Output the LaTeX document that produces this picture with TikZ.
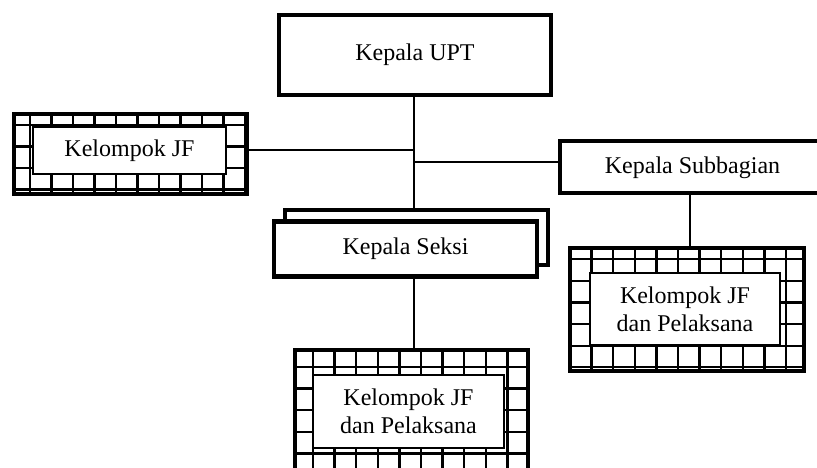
\documentclass[tikz,border=0pt]{standalone}
\usepackage{fontspec}
\setmainfont{Liberation Serif}
\begin{document}
\begin{tikzpicture}[x=1pt,y=-1pt,
  heavy/.style={draw=black,line width=4.5pt,fill=white,rectangle,inner sep=0pt,
    font=\fontsize{24}{28}\selectfont,align=center},
  plain/.style={rectangle,inner sep=0pt},
  label/.style={draw=black,line width=1.2pt,fill=white,rectangle,inner sep=0pt,
    font=\fontsize{24}{28}\selectfont,align=center},
  gridline/.style={draw=black,line width=2.3pt},
  edge/.style={draw=black,line width=1.5pt}]
\useasboundingbox (0,0) rectangle (817,467);

% top box
\node[heavy,minimum width=272pt,minimum height=80pt] (upt) at (415,55) {Kepala UPT};

% subbagian (runs off the right side)
\node[heavy,minimum width=270pt,minimum height=52pt] (sub) at (695,167) {};
\node at (692.5,168) [font=\fontsize{24}{28}\selectfont] (subtxt) {Kepala Subbagian};

% kepala seksi, two stacked boxes
\node[heavy,minimum width=263pt,minimum height=55pt] (seksib) at (416.5,237.5) {};
\node[heavy,minimum width=263pt,minimum height=55pt] (seksi) at (405.5,249) {Kepala Seksi};

% gridded group boxes: outer frames
\node[plain,minimum width=233pt,minimum height=80pt] (jf) at (130.5,154) {};
\node[plain,minimum width=234pt,minimum height=123pt] (jfr) at (687,309.5) {};
\node[plain,minimum width=233pt,minimum height=140pt] (jfb) at (411.5,420) {};

% grid fills
\begin{scope}
  \clip (jf.north west) rectangle (jf.south east);
  \foreach \x in {8.5,30,...,260} \draw[gridline] (\x,100) -- (\x,210);
  \foreach \y in {103.5,125,...,210} \draw[gridline] (0,\y) -- (260,\y);
\end{scope}
\begin{scope}
  \clip (jfr.north west) rectangle (jfr.south east);
  \foreach \x in {570,591.6,...,820} \draw[gridline] (\x,230) -- (\x,390);
  \foreach \y in {237.7,259.3,...,390} \draw[gridline] (550,\y) -- (820,\y);
\end{scope}
\begin{scope}
  \clip (jfb.north west) rectangle (jfb.south east);
  \foreach \x in {291.4,313,...,540} \draw[gridline] (\x,330) -- (\x,500);
  \foreach \y in {345.4,367,...,500} \draw[gridline] (280,\y) -- (540,\y);
\end{scope}
\draw[line width=4.5pt] (jf.north west) rectangle (jf.south east);
\draw[line width=4.5pt] (jfr.north west) rectangle (jfr.south east);
\draw[line width=4.5pt] (jfb.north west) rectangle (jfb.south east);

% inner labels
\node[label,minimum width=193pt,minimum height=47pt] (jfin) at (129.5,150.5) {Kelompok JF};
\node[label,minimum width=190pt,minimum height=72pt] (jfrin) at (685,309) {Kelompok JF\\dan Pelaksana};
\node[label,minimum width=191pt,minimum height=73pt] (jfbin) at (408.5,411.5) {Kelompok JF\\dan Pelaksana};

% connectors
\coordinate (j1) at (414,150);
\coordinate (j2) at (414,162);
\coordinate (j3) at (690,167);
\draw[edge] (upt.south -| j1) -- (j1 |- seksib.north);
\draw[edge] (jf.east |- j1) -- (j1);
\draw[edge] (j2) -- (j2 -| sub.west);
\draw[edge] (j3 |- sub.south) -- (j3 |- jfr.north);
\draw[edge] (j1 |- seksi.south) -- (j1 |- jfb.north);
\end{tikzpicture}
\end{document}
